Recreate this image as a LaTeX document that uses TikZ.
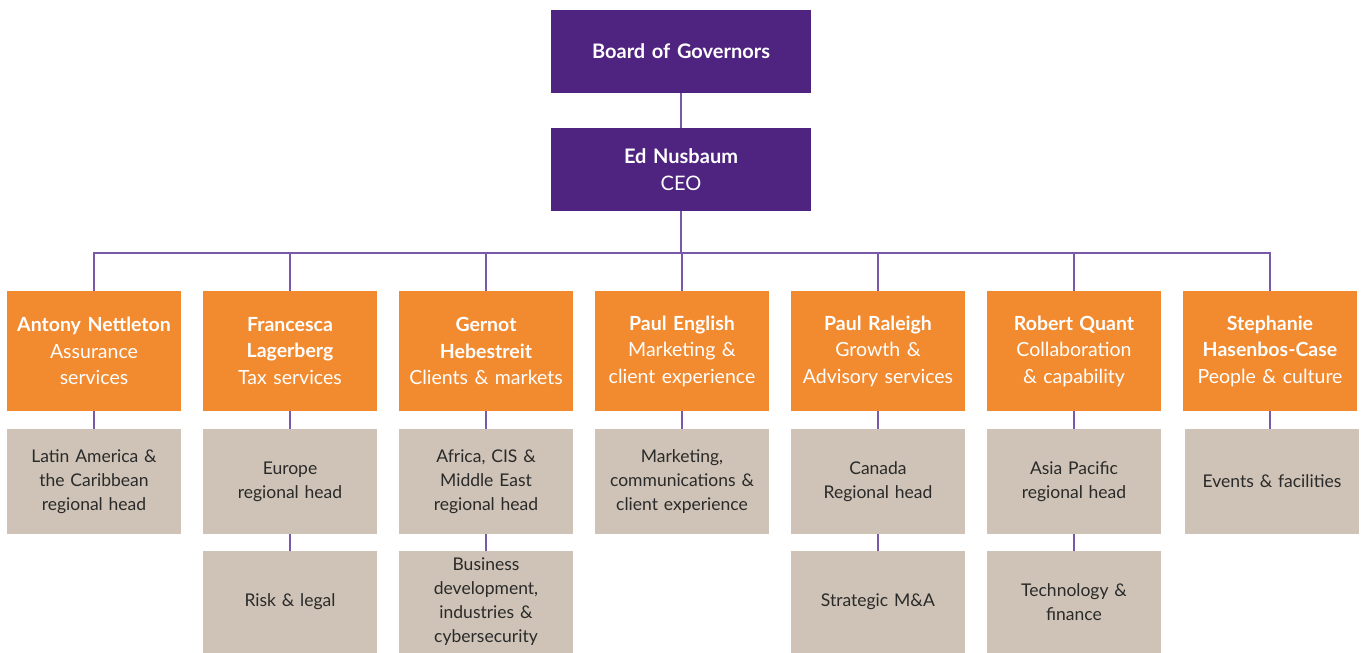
\documentclass[tikz,border=0pt]{standalone}
\usepackage{fontspec}
\setmainfont{Lato}
\definecolor{kpurple}{HTML}{4F2480}
\definecolor{kline}{HTML}{7A58A8}
\definecolor{korange}{HTML}{F28A30}
\definecolor{kgray}{HTML}{CEC3B6}
\definecolor{ktext}{HTML}{2A2A2A}
\newcommand{\nm}[1]{{\bfseries #1}}
\begin{document}
\begin{tikzpicture}[x=1pt,y=-1pt,
  topbox/.style={fill=kpurple, text=white, minimum width=260pt, minimum height=83pt, inner sep=0pt, align=center, text width=250pt, font=\fontsize{20}{27}\selectfont},
  headbox/.style={fill=korange, text=white, minimum width=174pt, minimum height=120pt, inner sep=0pt, align=center, text width=172pt, font=\fontsize{19.5}{26.5}\selectfont},
  subbox/.style={fill=kgray, text=ktext, minimum width=174pt, inner sep=0pt, align=center, text width=170pt, font=\fontsize{17.5}{24}\selectfont},
  conn/.style={draw=kline, line width=1.6pt}]
\useasboundingbox (0,0) rectangle (1363,653);
\fill[white] (0,0) rectangle (1363,653);
\node[topbox] (board) at (681,51.5) {\nm{Board of Governors}};
\node[topbox] (ceo) at (681,169.5) {\nm{Ed Nusbaum}\\CEO};

\node[headbox] (o1) at (94,351) {\nm{Antony Nettleton}\\Assurance\\services};
\node[headbox] (o2) at (290,351) {\nm{Francesca}\\\nm{Lagerberg}\\Tax services};
\node[headbox] (o3) at (486,351) {\nm{Gernot}\\\nm{Hebestreit}\\Clients \& markets};
\node[headbox] (o4) at (682,351) {\nm{Paul English}\\Marketing \&\\client experience};
\node[headbox] (o5) at (878,351) {\nm{Paul Raleigh}\\Growth \&\\Advisory services};
\node[headbox] (o6) at (1074,351) {\nm{Robert Quant}\\Collaboration\\\& capability};
\node[headbox] (o7) at (1270,351) {\nm{Stephanie}\\\nm{Hasenbos-Case}\\People \& culture};

\node[subbox, minimum height=105pt] (g1) at (94,481.5) {Latin America \&\\the Caribbean\\regional head};
\node[subbox, minimum height=105pt] (g2) at (290,481.5) {Europe\\regional head};
\node[subbox, minimum height=105pt] (g3) at (486,481.5) {Africa, CIS \&\\Middle East\\regional head};
\node[subbox, minimum height=105pt] (g4) at (682,481.5) {Marketing,\\communications \&\\client experience};
\node[subbox, minimum height=105pt] (g5) at (878,481.5) {Canada\\Regional head};
\node[subbox, minimum height=105pt] (g6) at (1074,481.5) {Asia Pacific\\regional head};
\node[subbox, minimum height=105pt] (g7) at (1272,481.5) {Events \& facilities};

\node[subbox, minimum height=102pt] (h2) at (290,602) {Risk \& legal};
\node[subbox, minimum height=102pt] (h3) at (486,602) {Business\\development,\\industries \&\\cybersecurity};
\node[subbox, minimum height=102pt] (h5) at (878,602) {Strategic M\&A};
\node[subbox, minimum height=102pt] (h6) at (1074,602) {Technology \&\\finance};

\coordinate (bus) at (681,253);
\draw[conn] (board.south) -- (ceo.north);
\draw[conn] (ceo.south) -- (ceo.south |- bus);
\draw[conn] (o1.north) -- (o1.north |- bus) -- (o7.north |- bus) -- (o7.north);
\foreach \i in {2,...,6} { \draw[conn] (o\i.north) -- (o\i.north |- bus); }
\foreach \i in {1,...,6} { \draw[conn] (o\i.south) -- (g\i.north); }
\draw[conn] (o7.south) -- (o7.south |- g7.north);
\foreach \i in {2,3,5,6} { \draw[conn] (g\i.south) -- (h\i.north); }
\end{tikzpicture}
\end{document}
